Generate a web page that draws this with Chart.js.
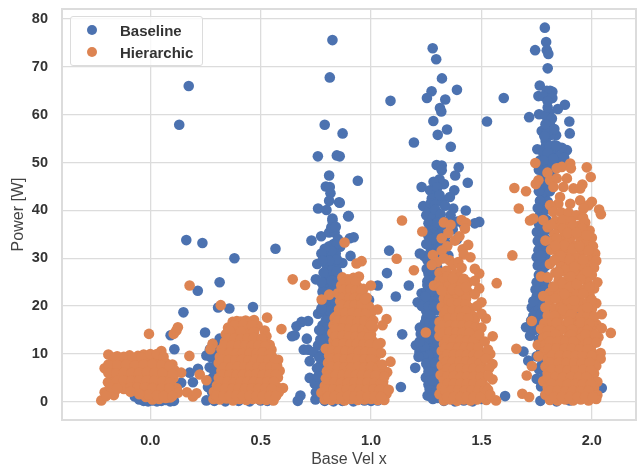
<!DOCTYPE html>
<html>
<head>
<meta charset="utf-8">
<script src="https://cdn.jsdelivr.net/npm/chart.js@4"></script>
<style>
    html, body { margin: 0; padding: 0; background: #fff; }
    #wrap { position: relative; width: 637px; height: 466px; overflow: hidden; }
    #legend {
        position: absolute; left: 70px; top: 16px; width: 131px; height: 48px;
        background: rgba(255,255,255,.8); border: 1px solid #dcdcdc; border-radius: 3px;
        font: bold 15px "Liberation Sans", Arial, sans-serif; color: #333;
    }
    #legend div { position: absolute; left: 49px; white-space: nowrap; }
    #legend span { position: absolute; left: -33px; top: 3px; width: 10px; height: 10px; border-radius: 50%; }
</style>
</head>
<body>
<div id="wrap">
    <canvas id="chart" width="637" height="466"></canvas>
    <div id="legend"></div>
</div>
<script>
const xTicks = [0, 0.5, 1, 1.5, 2];
const yTicks = [0, 10, 20, 30, 40, 50, 60, 70, 80];

// values, [vel, power]
const baselineLow = [
    [-.07,1.1],[-.05,.5],[-.03,.2],[-.01,.1],[.01,.3],[.03,.1],[.05,.2],[.07,.4],[.09,.1],[.107,.2],
    [-.06,2.5],[-.02,2],[.02,2.3],[.06,1.5],[.1,2.5],[.08,3.5],[.092,13.9],[.109,11],[.15,18.7],[.178,6.1],
    [.14,4],[.193,4.1],[.216,6.9],[.248,14.5],[.307,19.7],[.358,19.5],[.465,19.8],[.215,23.2],[.314,25],
    [.381,30],[.567,32],[.236,33.2],[.163,33.8],[.131,57.9],[.174,66]
];
const baselineSecond = [
    [.254,9.7],[.284,12.1],[.314,13.2],[.269,7.2],[.284,5.1],[.261,3.1],[.254,.3],[.29,.2],[.34,.1],[.4,.2],
    [.45,.1],[.5,.3],[.53,.2],[.55,.4],[.275,9.3],[.295,10.6],[.33,12],[.27,11],[.3,8],[.29,6.5],
    [.28,2],[.3,3.8],[.31,1.2],[.36,13],[.41,12],[.45,9],[.5,6],[.53,3],[.29,.9],[.27,4.6]
];
const baselineThird = [
    [.825,75.6],[.813,67.8],[.79,57.9],[.871,56.1],[.759,51.3],[.845,51.5],[.858,51.3],[.81,47.3],[.795,45],[.813,44.9],
    [.816,43.6],[.81,42],[.855,41.7],[.858,41.6],[.76,40.4],[.798,40.1],[.825,38.3],[.896,38.8],[.899,38.8],[.94,46.2],
    [.73,33.7],[.774,34.6],[.825,37.9],[.81,35.4],[.835,35.4],[.904,34.2],[.921,34.4],[.907,30.5],[.81,32.5],[.83,33],
    [.85,34],[.8,30.6],[.82,30],[.84,31],[.86,32.4],[.756,28.8],[.8,28.5],[.83,28],[.85,28.8],[.87,29],
    [.75,25.6],[.795,26],[.815,26.5],[.84,26],[.86,26],[.8,24.5],[.83,24],[.855,24],[.8,22.5],[.82,22],
    [.845,22],[.78,21],[.8,20],[.825,20],[.76,18.4],[.78,18.9],[.8,18],[.82,18],[.715,16.9],[.685,16.7],
    [.662,15.8],[.654,13.9],[.642,13.7],[.709,13.2],[.695,10.9],[.715,10.9],[.722,8.5],[.76,11.8],[.74,10.4],[.722,5],
    [.745,3.8],[.76,2.7],[.68,1.3],[.668,.2],[.748,.5],[.78,16],[.79,14],[.785,12],[.775,9.8],[.77,7.6],
    [.775,6],[.77,4.5],[.78,2],[.79,.2],[.83,.1],[.87,.2],[.92,.1],[.97,.3],[1.0,.2],[1.03,.3],
    [.991,21.3],[1.03,24.3],[1.112,22],[1.171,24.3],[1.072,26.9],[1.082,31.6],[1.141,14.1],[1.2,7.1],[1.135,3.1],[1.088,62.9],
    [.8,9],[.8,6],[.8,4],[.81,1.5],
    [.82,36.5],[.84,36.6],[.845,33],[.82,31.5],[.845,29.8],[.81,29.5],[.82,27.5],[.845,27.3],[.785,27],[.82,25.3],
    [.845,24.9],[.785,24],[.81,23],[.835,23.1],[.79,21.5],[.815,21],[.84,20.8],[.79,19.3],[.815,19],[.84,19],
    [.795,17],[.82,16.6],[.8,15.5],[.825,15],[.805,13.2],[.83,13],[.8,11.5],[.825,11],[.795,10.2],[.82,9],
    [.79,8],[.82,7],[.79,6.8],[.785,5.2],[.815,5],[.79,3.4],[.82,3],[.785,1],[.755,7],[.765,9.3],
    [.76,5.3],[.75,2],[.77,13],[.765,15],[.775,19.5],[.78,23],[.775,25],[.79,32],[.775,31],[.78,29.5]
];
const baselineFourth = [
    [1.279,73.9],[1.295,71.6],[1.321,67.6],[1.389,65.2],[1.274,64.9],[1.253,63.5],[1.336,63.2],[1.312,61.4],[1.318,60.7],[1.282,58.7],
    [1.344,56.9],[1.302,55.8],[1.194,54.2],[1.361,53.3],[1.297,49.5],[1.32,49.4],[1.32,48.4],[1.397,49],[1.381,47.3],[1.438,45.8],
    [1.229,44.9],[1.377,44.2],[1.267,44.2],[1.297,43.6],[1.275,42.5],[1.32,42.3],[1.357,42.8],[1.33,45.5],[1.31,46.5],[1.283,46],
    [1.236,40.9],[1.267,40.4],[1.297,39.7],[1.372,40.4],[1.429,40],[1.49,37.6],[1.27,41.5],[1.29,41.3],[1.335,41],[1.36,39],
    [1.25,39],[1.28,38.5],[1.31,38],[1.34,37.6],[1.39,37.7],[1.42,37],[1.47,37.3],[1.26,37.3],[1.29,36.5],[1.32,36.8],
    [1.259,35.8],[1.28,35],[1.31,35],[1.34,34.8],[1.37,36],[1.267,33.7],[1.29,33.5],[1.32,33.2],[1.345,33],[1.39,34],
    [1.27,32],[1.3,31.8],[1.33,31.5],[1.221,31],[1.24,30.5],[1.265,30.4],[1.29,30],[1.32,30],[1.35,30.6],[1.252,27.8],
    [1.275,28.5],[1.3,28],[1.264,25.7],[1.28,26.5],[1.3,26],[1.27,24],[1.3,24.3],[1.229,22.7],[1.25,23],[1.275,22.5],
    [1.3,22.5],[1.211,20.8],[1.24,20.8],[1.265,20.7],[1.29,21],[1.25,19],[1.28,19],[1.3,19.2],[1.25,17.5],[1.275,17.3],
    [1.3,17],[1.221,15.5],[1.245,15.8],[1.27,15.6],[1.295,15.4],[1.24,13.8],[1.27,14],[1.295,13.7],[1.225,12.5],[1.25,12.2],
    [1.275,12.3],[1.203,11.8],[1.219,10.4],[1.24,10.6],[1.265,10.5],[1.29,10.8],[1.25,9],[1.275,8.9],[1.3,9.2],[1.259,7.2],
    [1.285,7.3],[1.3,6.4],[1.248,5.1],[1.27,5.5],[1.29,5],[1.26,3.6],[1.285,3.5],[1.3,3.2],[1.256,1.3],[1.28,2],
    [1.3,.8],[1.33,.2],[1.38,.1],[1.42,.3],[1.46,.1],[1.5,.6],[1.525,58.6],[1.607,1.2],
    [1.28,29.3],[1.26,26.8],[1.285,23.4],[1.26,21.7],[1.265,18.2],[1.245,16.6],[1.26,13],[1.24,11.5],[1.26,9.7],[1.27,6.4],
    [1.28,.6],[1.265,2.7],[1.3,44.8],[1.31,43.2],[1.29,40.2],[1.315,39.2],[1.3,37.4],[1.3,34.2],[1.315,32.5],
    [1.26,34.6],[1.28,34],[1.25,33],[1.28,31],[1.255,29.6],[1.275,27.4],[1.255,25.2],[1.285,25.4],[1.255,24.4],[1.27,23],
    [1.245,22],[1.23,20],[1.26,19.9],[1.285,20],[1.265,16.4],[1.285,16.4],[1.25,14.5],[1.285,12.9],[1.235,9.5],[1.25,8],
    [1.29,8.2],[1.26,6.3],[1.265,4.4],[1.28,4.4],[1.275,1],[1.295,2.2],[1.22,12.6],[1.225,14.2],[1.215,9.4],[1.3,12],[1.3,29.5]
];
const baselineFifth = [
    [1.787,78.2],[1.793,75.2],[1.743,73.5],[1.796,73.5],[1.803,72.7],[1.8,69.7],[1.601,63.5],[1.764,66.1],[1.811,65],[1.821,64.8],
    [1.796,65],[1.758,63.9],[1.781,63.9],[1.821,63.5],[1.878,62.1],[1.846,61.2],[1.716,59.5],[1.761,60.1],[1.808,60.4],[1.788,59.9],
    [1.819,59.2],[1.898,58.6],[1.9,56.1],[1.838,55.7],[1.773,56.6],[1.811,57.8],[1.796,56.4],[1.811,55.7],[1.791,54.5],[1.753,52.8],
    [1.887,52.6],[1.864,53.1],[1.826,52.2],[1.811,51.2],[1.766,50.5],[1.841,50.8],[1.796,49.1],[1.781,47],[1.773,44.9],[1.776,42.8],
    [1.773,41.4],[1.781,40],[1.8,50],[1.82,49.4],[1.855,51.3],[1.875,51],[1.83,53.6],[1.785,48.6],[1.77,46.5],[1.795,45],
    [1.765,39],[1.78,38.5],[1.76,37.2],[1.78,36.4],[1.751,35.5],[1.775,35],[1.79,34],[1.766,33.1],[1.758,31.7],[1.78,31.6],
    [1.75,30.2],[1.77,29.5],[1.755,28.5],[1.775,27.7],[1.76,26.5],[1.773,25],[1.75,25],[1.745,23.5],[1.765,23.8],[1.75,22],
    [1.77,21.8],[1.755,20.5],[1.728,19.7],[1.745,19],[1.76,19.5],[1.735,18],[1.76,17.2],[1.702,15.6],[1.775,15.5],[1.78,14],
    [1.72,13.8],[1.79,12],[1.79,10.5],[1.69,10.5],[1.712,8.6],[1.78,8.6],[1.8,7],[1.76,6.8],[1.78,5],[1.8,3.6],
    [1.767,.2],[1.84,.1],[1.9,.3],[2.045,2.9],[1.98,9.5],[1.96,10],[1.88,23],[1.93,18],[1.86,28],[1.82,24],
    [1.79,43.5],[1.8,41.8],[1.795,40.2],[1.795,38],[1.8,36],[1.79,32.5],[1.79,30.3],[1.79,28.4],[1.785,26.4],[1.79,24.2],
    [1.775,20.6],[1.77,18.4],[1.79,18.6],[1.8,47.2],[1.81,44],
    [1.79,53.3],[1.81,53.4],[1.84,53.5],[1.78,52],[1.8,52],[1.825,50.8],[1.78,50.5],[1.8,48],[1.815,47.5],[1.76,48.5],
    [1.76,44],[1.79,46],[1.765,42],[1.755,40.5],[1.775,37.5],[1.755,33.6],[1.77,30.6],[1.78,23.3],[1.735,21],[1.725,17],
    [1.74,15],[1.755,15.6],[1.76,13],[1.77,11],[1.75,9.5],[1.77,7.5],[1.75,4.8],[1.77,3.2],[1.79,1.5],[1.8,56.5],
    [1.79,58],[1.8,61.5],[1.8,62.8],[1.83,57],[1.785,55.5]
];

const hierarchicFirst = [
    [-.222,.3],[-.207,2],[-.192,4.1],[-.207,7],[-.19,9.9],[-.15,9.5],[-.094,9.7],[-.056,9.6],[-.03,9.9],[.05,10.6],
    [-.17,8.5],[-.13,8.7],[-.1,8.2],[-.06,8.4],[-.02,8.6],[.01,9.3],[.03,8.7],[.07,8.1],[.1,7.8],[-.18,6.9],
    [-.15,6.6],[-.115,7],[-.08,6.8],[-.045,6.9],[-.01,7.1],[.025,6.9],[.06,7],[.09,6.2],[.11,6.6],[-.17,5.2],
    [-.135,5.4],[-.1,5.1],[-.065,5.3],[-.03,5.4],[.005,5.2],[.04,5.3],[.075,4.9],[.105,5],[-.185,3.7],[-.15,3.6],
    [-.115,3.8],[-.08,3.7],[-.045,3.6],[-.01,3.8],[.03,3.6],[.07,3.4],[.1,3.2],[.12,2.8],[-.16,2.3],[-.12,2.7],
    [-.07,2.4],[-.04,2.2],[-.005,2.3],[.03,2],[.06,1.9],[.09,2],[.125,1.9],[-.165,1.4],[-.02,1],[.01,.5],
    [.04,.6],[.07,.8],[.09,.9],[-.006,14.2],[.106,14.2],[.118,14.9],[.125,15.6],[.177,9.6],[.14,6.1],[.224,5.7],
    [.254,4.5],[.166,2],[.193,1.1],[.21,1.8],[.178,24.3],[.319,20.2],
    [-.16,9.3],[-.12,9.4],[-.08,9.2],[-.04,9.2],[0,10],[.03,10],[.06,9.4],[-.19,7.8],[-.15,7.7],[-.11,7.8],
    [-.07,7.6],[-.03,7.8],[.01,7.9],[.05,7.7],[.085,7.4],[-.19,6],[-.155,5.9],[-.12,6.1],[-.085,6],[-.05,6.1],
    [-.015,6.2],[.02,6.1],[.055,6],[.1,5.8],[-.15,4.5],[-.12,4.5],[-.085,4.4],[-.05,4.5],[-.015,4.5],[.02,4.4],
    [.055,4.3],[.09,4.1],[-.13,3],[-.09,3],[-.06,3],[-.025,3],[.01,2.9],[.05,2.8],[.085,2.8],[-.09,2.1],
    [-.01,1.5],[.03,1.3],[.06,1.2],[.1,1.2],[-.18,3],[-.2,1.2],[-.15,2.8],[-.05,1.6]
];
const hierarchicSecond = [
    [.373,16.7],[.392,16.9],[.41,16.8],[.432,17],[.452,16.7],[.47,17.1],[.529,17.6],[.352,15.5],[.372,15.7],[.402,15.4],
    [.43,15.6],[.453,15.3],[.486,15.9],[.594,15.2],[.342,14.1],[.362,13.9],[.391,14.2],[.421,13.8],[.443,14],[.518,14.9],
    [.526,13.7],[.338,12.5],[.36,12.6],[.392,12.3],[.42,12.6],[.452,12.4],[.48,12.5],[.512,12.2],[.541,11.9],[.282,12.1],
    [.322,11],[.349,11.2],[.38,10.8],[.411,11.1],[.44,11],[.472,10.9],[.503,11.2],[.531,10.8],[.549,10.9],[.272,11],
    [.315,9.4],[.342,9.6],[.371,9.3],[.401,9.7],[.43,9.4],[.462,9.6],[.49,9.3],[.522,9.6],[.552,9.4],[.579,8.8],
    [.31,8.1],[.338,7.9],[.37,8.2],[.399,7.8],[.432,8.1],[.46,7.9],[.491,8.2],[.522,7.8],[.551,8],[.574,7.6],
    [.322,6.5],[.351,6.7],[.38,6.3],[.41,6.6],[.442,6.4],[.47,6.7],[.5,6.3],[.53,6.6],[.56,6.3],[.586,6.5],
    [.31,5],[.342,4.9],[.37,5.2],[.402,4.8],[.43,5.1],[.461,4.9],[.49,5.2],[.52,4.8],[.552,5],[.578,5.1],
    [.302,3.4],[.332,3.6],[.362,3.3],[.392,3.6],[.422,3.4],[.452,3.5],[.482,3.3],[.512,3.6],[.542,3.4],[.572,3.2],
    [.601,2.9],[.288,2.1],[.318,1.9],[.35,2.2],[.381,1.8],[.41,2.1],[.44,1.9],[.47,2.2],[.5,1.8],[.53,2],
    [.561,1.9],[.582,2],[.286,.6],[.315,.5],[.345,.7],[.375,.3],[.405,.6],[.435,.4],[.465,.6],[.495,.5],
    [.525,.4],[.558,.3],[.645,25.6],[.701,24.4],
    [.38,16],[.42,16.1],[.46,16],[.36,14.8],[.41,14.7],[.47,14.6],[.35,13.3],[.38,13.2],[.41,13.1],[.44,13.2],
    [.47,13.4],[.505,13.3],[.335,11.8],[.37,11.7],[.4,11.7],[.43,11.8],[.46,11.7],[.49,11.8],[.52,11.6],[.33,10.2],
    [.36,10.2],[.39,10.1],[.42,10.2],[.45,10.2],[.48,10.1],[.51,10.3],[.54,10],[.325,8.8],[.355,8.8],[.385,8.7],
    [.415,8.8],[.445,8.7],[.475,8.8],[.505,8.7],[.535,8.8],[.565,8.7],[.335,7.2],[.365,7.2],[.395,7.3],[.425,7.2],
    [.455,7.3],[.485,7.2],[.515,7.2],[.545,7.2],[.57,7],[.33,5.7],[.36,5.7],[.39,5.6],[.42,5.7],[.45,5.6],
    [.48,5.8],[.51,5.6],[.54,5.7],[.57,5.7],[.32,4.2],[.35,4.2],[.38,4.1],[.41,4.2],[.44,4.2],[.47,4.2],
    [.5,4.1],[.53,4.2],[.56,4.2],[.31,2.8],[.34,2.8],[.37,2.7],[.4,2.8],[.43,2.7],[.46,2.8],[.49,2.7],
    [.52,2.8],[.55,2.7],[.3,1.3],[.33,1.2],[.36,1.2],[.39,1.3],[.42,1.2],[.45,1.3],[.48,1.2],[.51,1.2],
    [.54,1.2],[.57,1.2]
];
const hierarchicThird = [
    [.88,33.3],[.776,21.4],[.81,22.4],[.957,29.4],[.934,28.9],[.999,24.3],[1.029,19.3],[1.07,17.3],[1.052,16],[1.043,12.3],
    [1.088,8.4],[1.073,6.2],[.87,26],[.895,25.6],[.92,25.9],[.945,26.2],[.865,24.3],[.89,24],[.915,24.5],[.94,24],
    [.965,23.6],[.85,22.7],[.875,22.5],[.9,22.8],[.93,22.4],[.96,22.6],[.98,21.8],[.835,17.5],[.86,21],[.885,20.8],
    [.91,21.1],[.94,20.9],[.97,20.7],[.99,20],[.855,19.3],[.88,19.5],[.91,19.2],[.94,19.4],[.97,19.1],[1.0,18.6],
    [.84,17.8],[.87,17.6],[.9,17.9],[.93,17.5],[.96,17.7],[.99,17.3],[1.01,17],[.83,16],[.86,16.2],[.89,15.9],
    [.92,16.2],[.95,15.8],[.98,16.1],[1.01,15.6],[.825,14.4],[.855,14.6],[.885,14.3],[.915,14.5],[.945,14.2],[.975,14.6],
    [1.0,14],[.83,12.8],[.86,13],[.89,12.7],[.92,12.9],[.95,12.7],[.98,12.9],[1.01,12.6],[.795,11.1],[.825,11.4],
    [.855,11.2],[.885,11.4],[.915,11.1],[.945,11.3],[.975,11.1],[1.005,11.2],[1.02,10.5],[.81,9.7],[.84,9.8],[.87,9.5],
    [.9,9.8],[.93,9.6],[.96,9.7],[.99,9.5],[1.02,9.3],[.805,8.1],[.835,8],[.865,8.3],[.895,7.9],[.925,8.2],
    [.955,8],[.985,8.2],[1.015,7.9],[1.04,7.6],[.8,6.4],[.83,6.6],[.86,6.3],[.89,6.5],[.92,6.3],[.95,6.6],
    [.98,6.3],[1.01,6.5],[1.04,6.1],[.795,4.9],[.825,4.8],[.855,5],[.885,4.7],[.915,5],[.945,4.8],[.975,5],
    [1.005,4.8],[1.035,4.7],[1.055,4.2],[.79,3.3],[.82,3.4],[.85,3.2],[.88,3.5],[.91,3.2],[.94,3.4],[.97,3.2],
    [1.0,3.4],[1.03,3.2],[1.06,2.9],[.775,1.9],[.805,1.8],[.835,2],[.865,1.7],[.895,2],[.925,1.8],[.955,2],
    [.985,1.7],[1.015,1.9],[1.045,1.8],[1.07,1.7],[.79,.5],[.82,.4],[.85,.6],[.88,.3],[.91,.6],[.94,.4],
    [.97,.5],[1.0,.6],[1.03,.4],[1.06,.4],[1.14,37.9],[1.116,29.9],[1.194,27.5],
    [.88,25],[.905,25.1],[.93,25.1],[.875,23.4],[.905,23.5],[.93,23.2],[.955,23.2],[.87,21.7],[.9,21.7],[.925,21.7],
    [.955,21.6],[.87,20.2],[.9,20.1],[.925,20.2],[.955,20.2],[.985,19.8],[.855,18.5],[.885,18.6],[.915,18.6],[.945,18.5],
    [.975,18.4],[.85,17],[.88,16.9],[.91,17],[.94,16.8],[.97,16.9],[1.0,16.5],[.84,15.3],[.87,15.3],[.9,15.2],
    [.93,15.2],[.96,15.1],[.99,15.2],[.84,13.7],[.87,13.8],[.9,13.6],[.93,13.6],[.96,13.6],[.99,13.5],[.845,12.1],
    [.875,12.2],[.905,12],[.935,12.1],[.965,12],[.995,12],[.825,10.6],[.855,10.6],[.885,10.6],[.915,10.5],[.945,10.5],
    [.975,10.4],[1.005,10.3],[.82,9],[.85,9],[.88,8.9],[.91,9],[.94,8.9],[.97,8.9],[1.0,8.9],[.82,7.3],
    [.85,7.3],[.88,7.2],[.91,7.2],[.94,7.3],[.97,7.2],[1.0,7.3],[1.03,7],[.81,5.6],[.84,5.6],[.87,5.6],
    [.9,5.6],[.93,5.6],[.96,5.6],[.99,5.6],[1.02,5.5],[.805,4.1],[.835,4.1],[.865,4],[.895,4],[.925,4.1],
    [.955,4],[.985,4.1],[1.015,4],[1.045,3.9],[.8,2.6],[.83,2.6],[.86,2.5],[.89,2.6],[.92,2.5],[.95,2.6],
    [.98,2.5],[1.01,2.6],[1.04,2.5],[.805,1.1],[.835,1.2],[.865,1],[.895,1.2],[.925,1.1],[.955,1.2],[.985,1.1],
    [1.015,1.1],[1.045,1.1],[1.03,12],[1.045,10.2],[1.05,7.8],[1.06,5.3],[1.08,2.5],[.972,21.5],[1.0,16]
];
const hierarchicFourth = [
    [1.232,35.6],[1.33,37.5],[1.36,37],[1.41,38],[1.43,37.4],[1.425,36.2],[1.32,34.2],[1.35,35.3],[1.38,33.7],[1.4,34.6],
    [1.345,32.5],[1.415,31.9],[1.44,32.8],[1.42,30.8],[1.45,30.2],[1.32,31.6],[1.28,30.7],[1.3,29.2],[1.33,30],[1.355,29.6],
    [1.37,28.6],[1.395,29.2],[1.41,28],[1.275,28.6],[1.31,27],[1.34,27.4],[1.38,26.7],[1.4,26],[1.31,25.4],[1.33,25.7],
    [1.36,25.2],[1.44,25],[1.285,24.3],[1.31,24],[1.35,24.4],[1.38,24.2],[1.41,24.5],[1.33,23],[1.36,22.4],[1.39,22.8],
    [1.42,22.6],[1.44,22.9],[1.33,21.6],[1.38,21.3],[1.41,21],[1.43,21.5],[1.32,19.8],[1.35,19.7],[1.38,19.8],[1.41,19.4],
    [1.45,19.6],[1.33,18.2],[1.36,18.4],[1.39,18.1],[1.42,18.3],[1.46,18],[1.31,16.7],[1.34,16.9],[1.37,16.6],[1.4,16.8],
    [1.43,16.5],[1.465,16.6],[1.47,17.2],[1.248,14.5],[1.31,15.2],[1.34,15.4],[1.37,15.1],[1.4,15.3],[1.43,15],[1.46,15.2],
    [1.31,13.7],[1.34,13.9],[1.37,13.6],[1.4,13.8],[1.43,13.6],[1.46,13.8],[1.551,13.7],[1.33,12.1],[1.36,12.3],[1.39,12],
    [1.42,12.2],[1.45,12],[1.48,12.3],[1.32,10.6],[1.35,10.8],[1.38,10.5],[1.41,10.7],[1.44,10.4],[1.47,10.6],[1.495,10.4],
    [1.33,9.1],[1.36,9.3],[1.39,9],[1.42,9.2],[1.45,8.9],[1.48,9.1],[1.5,8.4],[1.32,7.6],[1.35,7.7],[1.38,7.5],
    [1.41,7.8],[1.44,7.5],[1.47,7.7],[1.5,7.3],[1.33,6],[1.36,6.2],[1.39,5.9],[1.42,6.2],[1.45,5.9],[1.48,6.1],
    [1.315,5.6],[1.33,4.5],[1.36,4.7],[1.39,4.4],[1.42,4.7],[1.45,4.4],[1.48,4.6],[1.505,4.4],[1.32,3],[1.35,3.2],
    [1.38,2.9],[1.41,3.2],[1.44,2.9],[1.47,3.1],[1.5,2.9],[1.52,3.1],[1.31,1.6],[1.34,1.7],[1.37,1.5],[1.4,1.8],
    [1.43,1.5],[1.46,1.7],[1.49,1.5],[1.52,1.7],[1.33,.3],[1.36,.5],[1.39,.2],[1.42,.5],[1.45,.3],[1.48,.5],
    [1.522,.4],[1.566,.3],[1.569,24.8],[1.64,30.6],
    [1.345,26.2],[1.37,25.8],[1.42,25.7],[1.32,23.2],[1.37,23.5],[1.4,23.3],[1.43,24],[1.35,21.3],[1.365,20.7],[1.395,20.6],
    [1.43,20.4],[1.34,19],[1.37,19.1],[1.4,19],[1.43,19],[1.35,17.5],[1.38,17.5],[1.41,17.6],[1.44,17.4],[1.325,16],
    [1.355,16],[1.385,16],[1.415,16],[1.445,15.9],[1.475,15.6],[1.325,14.5],[1.355,14.6],[1.385,14.5],[1.415,14.5],[1.445,14.4],
    [1.345,13],[1.375,13],[1.405,12.9],[1.435,12.8],[1.465,12.9],[1.335,11.3],[1.365,11.4],[1.395,11.3],[1.425,11.4],[1.455,11.3],
    [1.485,11.3],[1.345,9.9],[1.375,9.9],[1.405,9.9],[1.435,9.8],[1.465,9.8],[1.49,9.8],[1.34,8.4],[1.37,8.4],[1.4,8.4],
    [1.43,8.4],[1.46,8.3],[1.49,8],[1.345,6.9],[1.375,6.9],[1.405,7],[1.435,6.8],[1.465,6.9],[1.495,6.7],[1.345,5.3],
    [1.375,5.4],[1.405,5.2],[1.435,5.2],[1.465,5.3],[1.495,5.2],[1.345,3.8],[1.375,3.8],[1.405,3.8],[1.435,3.7],[1.465,3.8],
    [1.495,3.7],[1.335,2.4],[1.365,2.4],[1.395,2.4],[1.425,2.3],[1.455,2.4],[1.485,2.3],[1.515,2.4],[1.345,1],[1.375,1],
    [1.405,1],[1.435,1],[1.465,1],[1.495,1],
    [1.49,26.8],[1.47,27.8],[1.47,25.3],[1.49,23.7],[1.47,22.5],[1.5,20.8],[1.48,20],[1.52,17.4],[1.5,18.4],[1.5,15.5],
    [1.49,14],[1.515,12.6],[1.54,10],[1.53,10.9],[1.52,9],[1.55,7.9],[1.535,7],[1.55,4.7],[1.53,5.5],[1.53,2.5],[1.54,1.5]
];
const hierarchicFifth = [
    [1.744,49.9],[1.902,49.8],[1.864,49.1],[1.905,48.8],[1.841,48.8],[1.977,49],[1.995,47],[1.799,47.9],[1.758,46.3],[1.746,45.5],
    [1.649,44.7],[1.702,44],[1.811,46.3],[1.841,46.7],[1.887,46.7],[1.826,44.9],[1.871,44.9],[1.917,44.6],[1.957,45.4],[1.947,44.6],
    [1.856,42.8],[1.848,41.4],[1.811,41.1],[1.902,41.4],[1.947,42.1],[2,41.8],[1.985,41.1],[1.962,40.4],[2.033,40.2],[2.041,39.2],
    [1.669,40.4],[1.72,37.9],[1.735,38.3],[1.78,38],[1.825,39.7],[1.86,39.6],[1.895,39.5],[1.93,39],[1.96,38.5],[1.835,37.8],
    [1.87,38],[1.905,37.7],[1.94,36.8],[1.97,37.5],[1.8,36.5],[1.85,36.3],[1.885,36.4],[1.92,35.7],[1.99,35.8],[1.83,35],
    [1.875,34.7],[1.905,34.4],[1.945,34.5],[2.0,34.3],[1.79,33.7],[1.825,33.6],[1.86,33],[1.895,33.4],[1.93,32.7],[1.97,33],
    [2.005,32.5],[1.815,31.8],[1.85,31.4],[1.885,31.6],[1.91,30.8],[1.955,31.3],[2.015,31],[1.84,30],[1.87,29.8],[1.93,30],
    [1.985,29.7],[2.02,29.5],[1.81,28.8],[1.86,28.2],[1.9,28.6],[1.94,28],[1.97,28.8],[2.01,28],[1.835,27],[1.89,26.8],
    [1.925,26.6],[1.96,26.4],[2.0,26.5],[1.77,26.2],[1.8,26],[1.85,25.4],[1.88,25.1],[1.91,25.4],[1.98,25],[2.025,25],
    [1.84,23.9],[1.87,23.6],[1.94,23.8],[1.97,23.6],[2.01,23.7],[1.81,22.8],[1.85,22.4],[1.9,22.3],[1.93,22.5],[1.99,22.2],
    [1.78,22.1],[1.81,21.2],[1.86,20.8],[1.89,21],[1.95,20.8],[1.98,20.7],[2.02,20.6],[1.79,19.7],[1.83,19.5],[1.9,19.4],
    [1.93,19.7],[1.96,19.2],[2.0,19.4],[2.045,18.3],[1.8,18],[1.85,17.7],[1.88,18.2],[1.92,17.8],[1.95,17.8],[1.98,18],
    [1.728,16.9],[1.785,16.4],[1.82,16.6],[1.87,16],[1.91,16.4],[1.94,16.2],[1.97,16.5],[2.02,16.2],[1.77,15.2],[1.8,14.9],
    [1.835,15.1],[1.895,14.8],[1.93,14.9],[1.96,14.7],[2.0,14.9],[2.045,15.4],[2.086,14.4],[1.78,13.4],[1.815,13.3],[1.85,13.5],
    [1.885,13.2],[1.92,13.4],[1.95,13.2],[1.985,13.3],[2.03,13.5],[1.755,11.9],[1.79,12],[1.825,11.8],[1.86,12],[1.895,11.7],
    [1.93,12],[1.965,11.7],[2,11.8],[1.658,11.1],[1.785,10.4],[1.82,10.4],[1.855,10.6],[1.89,10.3],[1.925,10.5],[1.96,10.2],
    [2.0,10.4],[2.04,10.2],[1.758,9.5],[1.8,8.9],[1.84,8.8],[1.875,9.1],[1.91,8.8],[1.945,9],[1.98,8.8],[2.015,9.1],
    [2.04,9],[1.728,7.5],[1.79,7.4],[1.83,7.6],[1.865,7.3],[1.9,7.5],[1.935,7.3],[1.97,7.6],[2,7.3],[2.02,7.5],
    [1.705,5.5],[1.8,5.9],[1.84,6],[1.875,5.8],[1.91,6],[1.945,5.8],[1.98,6],[2.01,5.9],[1.78,4.3],[1.815,4.5],
    [1.85,4.3],[1.885,4.5],[1.92,4.3],[1.955,4.5],[1.99,4.3],[2.025,4.2],[1.8,3],[1.835,3.1],[1.87,2.9],[1.905,3.1],
    [1.94,2.9],[1.975,3.1],[2.01,2.9],[1.685,1.7],[1.716,1],[1.79,1.5],[1.825,1.7],[1.86,1.5],[1.895,1.7],[1.93,1.5],
    [1.965,1.7],[2,1.5],[2.025,1.4],[1.81,.4],[1.845,.3],[1.88,.5],[1.915,.3],[1.95,.5],[1.985,.3],[2.02,.6],
    [1.815,37],[1.87,36.2],[1.915,36.8],[1.955,36.3],[1.84,34.2],[1.89,35.3],[1.93,35.4],[1.975,34.8],[1.875,32.7],[1.915,32],
    [1.835,32.6],[1.945,32.5],[1.985,31.6],[1.86,30.5],[1.9,29.7],[1.96,29.7],[1.83,29.6],[1.88,27.6],[1.92,28.2],[1.98,27.3],
    [1.85,27],[1.905,26.2],[1.95,25.6],[1.865,24.7],[1.9,24],[1.93,24.6],[1.99,24],[1.825,24.1],[1.875,22.5],[1.96,22.6],
    [1.835,21.6],[1.92,21.2],[2.0,21.3],[1.86,19.6],[1.87,19.2],[1.98,19.7],[1.83,18],[1.905,18.3],[2.01,17.8],[1.84,16.5],
    [1.895,16.7],[1.95,16.6],[1.99,16.3],[1.86,15],[1.91,15.1],[1.98,15],[1.8,13.7],[1.835,14.1],[1.905,14],[1.97,14.1],
    [2.015,14],[1.81,12.6],[1.845,12.6],[1.88,12.6],[1.915,12.6],[1.985,12.4],[2.02,12.4],[1.805,11.1],[1.84,11.2],[1.875,11.1],
    [1.91,11.1],[1.945,11],[1.98,11],[1.82,9.7],[1.855,9.7],[1.89,9.7],[1.925,9.6],[1.96,9.5],[2,9.6],[1.81,8.2],
    [1.85,8.2],[1.885,8.1],[1.92,8.1],[1.955,8.1],[1.99,8.2],[1.82,6.7],[1.855,6.7],[1.89,6.6],[1.925,6.6],[1.96,6.7],
    [1.995,6.6],[1.8,5.2],[1.835,5.2],[1.87,5.1],[1.905,5.2],[1.94,5.1],[1.975,5.2],[1.82,3.7],[1.855,3.7],[1.89,3.7],
    [1.925,3.7],[1.96,3.7],[1.995,3.7],[1.81,2.3],[1.845,2.3],[1.88,2.2],[1.915,2.3],[1.95,2.2],[1.985,2.3],[1.83,1],
    [1.865,1],[1.9,1],[1.935,1],[1.97,1],[2.005,1]
];

const baselinePoints = [...baselineLow, ...baselineSecond, ...baselineThird, ...baselineFourth, ...baselineFifth];
const hierarchicPoints = [...hierarchicFirst, ...hierarchicSecond, ...hierarchicThird, ...hierarchicFourth, ...hierarchicFifth];

const gridColor = '#dcdcdc';
const textColor = '#333';

function toPoints(list) {
    return list.map(([x, y]) => ({ x, y }));
}

// seaborn style frame, thicker than the grid
const framePlugin = {
    id: 'frame',
    beforeDatasetsDraw(chart) {
        const { left, top, width, height } = chart.chartArea;
        const ctx = chart.ctx;
        ctx.save();
        ctx.strokeStyle = gridColor;
        ctx.lineWidth = 2;
        ctx.strokeRect(left, top, width, height);
        ctx.restore();
    }
};

const chart = new Chart(document.getElementById('chart'), {
    type: 'scatter',
    data: {
        datasets: [
            { label: 'Baseline', data: toPoints(baselinePoints), backgroundColor: '#4c72b0', pointRadius: 5.3, pointBorderWidth: 0, order: 2 },
            { label: 'Hierarchic', data: toPoints(hierarchicPoints), backgroundColor: '#dd8452', pointRadius: 5.3, pointBorderWidth: 0, order: 1 }
        ]
    },
    options: {
        responsive: false,
        animation: false,
        devicePixelRatio: 1,
        layout: { autoPadding: false, padding: { top: 9, right: 1, left: 0, bottom: 0 } },
        plugins: { legend: { display: false }, tooltip: { enabled: false } },
        scales: {
            x: {
                type: 'linear',
                min: -0.4,
                max: 2.2,
                afterBuildTicks: (scale) => { scale.ticks = xTicks.map((value) => ({ value })); },
                afterFit: (scale) => { scale.height = 46; scale.paddingLeft = 0; scale.paddingRight = 0; },
                grid: { color: gridColor, lineWidth: 1.3, drawTicks: false },
                border: { display: false },
                ticks: {
                    color: textColor,
                    padding: 12,
                    maxRotation: 0,
                    font: { family: '"Liberation Sans"', size: 14.5, weight: 'bold' },
                    callback: (value) => value.toFixed(1)
                },
                title: {
                    display: true,
                    text: 'Base Vel x',
                    color: '#444',
                    padding: { top: 0, bottom: -2 },
                    font: { family: '"Liberation Sans"', size: 16, lineHeight: 1 }
                }
            },
            y: {
                min: -3.8,
                max: 82.1,
                afterBuildTicks: (scale) => { scale.ticks = yTicks.map((value) => ({ value })); },
                afterFit: (scale) => { scale.width = 62; scale.paddingTop = 0; scale.paddingBottom = 0; },
                grid: { color: gridColor, lineWidth: 1.3, drawTicks: false },
                border: { display: false },
                ticks: {
                    color: textColor,
                    padding: 14,
                    font: { family: '"Liberation Sans"', size: 14.5, weight: 'bold' }
                },
                title: {
                    display: true,
                    text: 'Power [W]',
                    color: '#444',
                    padding: { top: 11, bottom: 0 },
                    font: { family: '"Liberation Sans"', size: 16, lineHeight: 1 }
                }
            }
        }
    },
    plugins: [framePlugin]
});

// legend box sits inside the plot, filled from the datasets
const legendEl = document.getElementById('legend');
chart.data.datasets.forEach((dataset, i) => {
    const row = document.createElement('div');
    row.style.top = (5 + i * 22) + 'px';
    row.textContent = dataset.label;
    const dot = document.createElement('span');
    dot.style.background = dataset.backgroundColor;
    row.appendChild(dot);
    legendEl.appendChild(row);
});
</script>
</body>
</html>
